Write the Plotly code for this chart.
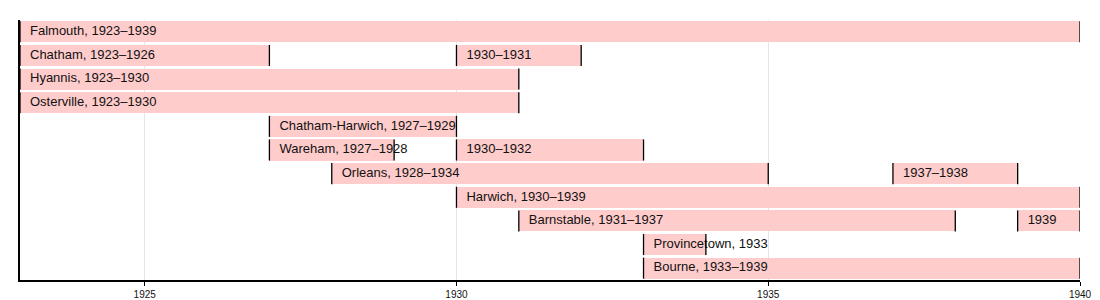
import plotly.graph_objects as go

rows = ["Falmouth", "Chatham", "Hyannis", "Osterville", "Chatham-Harwich",
        "Wareham", "Orleans", "Harwich", "Barnstable", "Provincetown", "Bourne"]

# segments: row name, first year, last year (inclusive), label
seg_rows = ["Falmouth", "Chatham", "Chatham", "Hyannis", "Osterville",
            "Chatham-Harwich", "Wareham", "Wareham", "Orleans", "Orleans",
            "Harwich", "Barnstable", "Barnstable", "Provincetown", "Bourne"]
seg_start = [1923, 1923, 1930, 1923, 1923, 1927, 1927, 1930, 1928, 1937,
             1930, 1931, 1939, 1933, 1933]
seg_last = [1939, 1926, 1931, 1930, 1930, 1929, 1928, 1932, 1934, 1938,
            1939, 1937, 1939, 1933, 1939]
seg_labels = ["Falmouth, 1923–1939", "Chatham, 1923–1926", "1930–1931",
              "Hyannis, 1923–1930", "Osterville, 1923–1930",
              "Chatham-Harwich, 1927–1929", "Wareham, 1927–1928", "1930–1932",
              "Orleans, 1928–1934", "1937–1938", "Harwich, 1930–1939",
              "Barnstable, 1931–1937", "1939", "Provincetown, 1933",
              "Bourne, 1933–1939"]

tick_vals = [1925, 1930, 1935, 1940]
x_min, x_max = 1923, 1940

seg_end = [l + 1 for l in seg_last]
seg_y = [rows.index(r) for r in seg_rows]
durations = [e - s for s, e in zip(seg_start, seg_end)]

BAR_H = 0.89
PX_PER_YEAR = 1060 / (x_max - x_min)
TEXT_PAD = 10 / PX_PER_YEAR

fig = go.Figure()
fig.add_trace(go.Bar(
    orientation="h", y=seg_y, x=durations, base=seg_start, width=BAR_H,
    marker=dict(color="#ffcccc", line=dict(width=0)), hoverinfo="skip",
))
fig.add_trace(go.Scatter(
    x=[s + TEXT_PAD for s in seg_start], y=seg_y, mode="text", text=seg_labels,
    textposition="middle right",
    textfont=dict(family="Liberation Sans, Arial, sans-serif", size=13, color="#111"),
    hoverinfo="skip", cliponaxis=False,
))
lx, ly = [], []
for s, e, y in zip(seg_start, seg_end, seg_y):
    for v in (s, e):
        lx += [v, v, None]
        ly += [y - BAR_H / 2, y + BAR_H / 2, None]
fig.add_trace(go.Scatter(x=lx, y=ly, mode="lines", line=dict(color="black", width=1.3),
                         hoverinfo="skip"))

fig.update_layout(
    width=1100, height=300, margin=dict(l=20, r=20, t=20, b=20),
    plot_bgcolor="white", paper_bgcolor="white", showlegend=False,
    bargap=0,
)
fig.update_xaxes(
    range=[x_min, x_max], tickvals=tick_vals, ticktext=[str(t) for t in tick_vals],
    showgrid=True, gridcolor="#e6e6e6", gridwidth=1, zeroline=False,
    showline=True, linecolor="black", linewidth=1.5, automargin=False,
    ticks="outside", ticklen=4, tickcolor="black", tickwidth=1,
    tickfont=dict(family="Liberation Sans, Arial, sans-serif", size=10, color="#111"),
)
fig.update_yaxes(
    range=[len(rows) - 0.5, -0.5], showgrid=False, zeroline=False, automargin=False,
    showticklabels=False, ticks="", showline=True, linecolor="black", linewidth=1.5,
)
fig.write_html("out.html")
